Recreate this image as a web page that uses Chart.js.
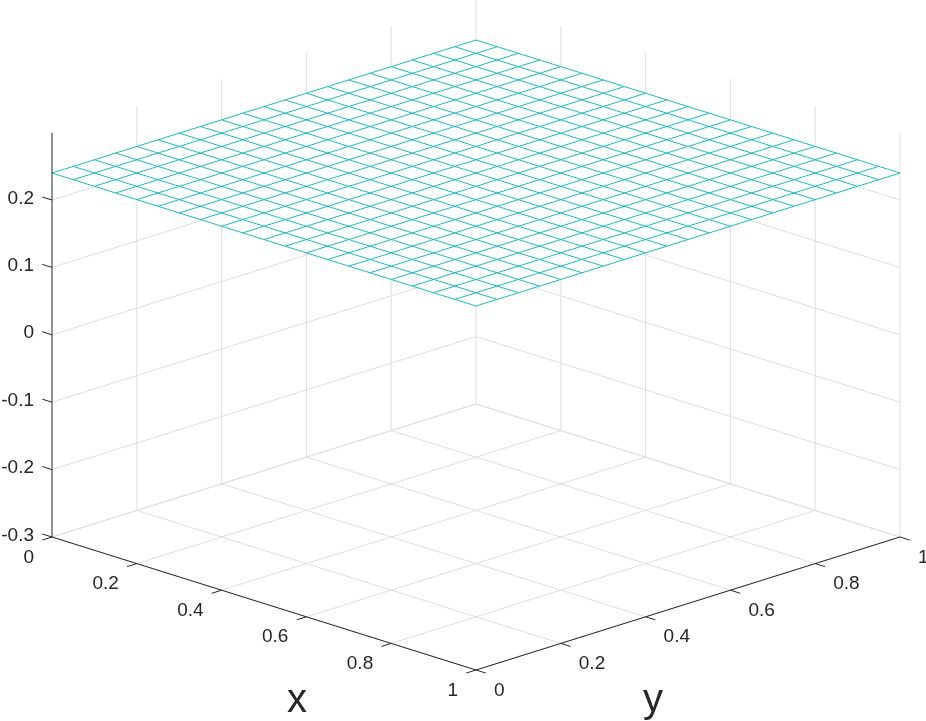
<!DOCTYPE html>
<html>
<head>
<meta charset="utf-8">
<script src="https://cdn.jsdelivr.net/npm/chart.js@4.4.0/dist/chart.umd.min.js"></script>
<style>
  html, body { margin: 0; padding: 0; background: #fff; }
  canvas { display: block; }
</style>
</head>
<body>
<canvas id="grafico" width="926" height="721"></canvas>
<script>
// valores
const xTicks = [0, 0.2, 0.4, 0.6, 0.8, 1];
const yTicks = [0, 0.2, 0.4, 0.6, 0.8, 1];
const zTicks = [-0.3, -0.2, -0.1, 0, 0.1, 0.2];
const xTickLabels = ['0', '0.2', '0.4', '0.6', '0.8', '1'];
const yTickLabels = ['0', '0.2', '0.4', '0.6', '0.8', '1'];
const zTickLabels = ['-0.3', '-0.2', '-0.1', '0', '0.1', '0.2'];
const zLimits = [-0.3, 0.3];

// malha da superfície (plano constante)
const meshX = [0, 0.05, 0.1, 0.15, 0.2, 0.25, 0.3, 0.35, 0.4, 0.45, 0.5, 0.55, 0.6, 0.65, 0.7, 0.75, 0.8, 0.85, 0.9, 0.95, 1];
const meshY = [0, 0.05, 0.1, 0.15, 0.2, 0.25, 0.3, 0.35, 0.4, 0.45, 0.5, 0.55, 0.6, 0.65, 0.7, 0.75, 0.8, 0.85, 0.9, 0.95, 1];
const surfaceZ = 0.24;

// vista 3D (projeção ortográfica, em pixels do canvas)
const vista = { ox: 52, oy: 537, ux: [424, 133], uy: [424, -133], uz: -674 };
const zMin = zLimits[0], zMax = zLimits[1];
const tickLen = 0.023;

function projetar(x, y, z) {
  return {
    x: vista.ox + vista.ux[0] * x + vista.uy[0] * y,
    y: vista.oy + vista.ux[1] * x + vista.uy[1] * y + vista.uz * (z - zMin)
  };
}

// junta varios segmentos num so dataset, separados por NaN
function segmentos(lista) {
  const pts = [];
  lista.forEach(s => {
    pts.push(projetar(...s[0]));
    pts.push(projetar(...s[1]));
    pts.push({ x: NaN, y: NaN });
  });
  return pts;
}

// grade cinza (chão e paredes do fundo)
const grade = [];
xTicks.forEach(x => grade.push([[x, 0, zMin], [x, 1, zMin]]));
yTicks.forEach(y => grade.push([[0, y, zMin], [1, y, zMin]]));
zTicks.forEach(z => {
  grade.push([[0, 0, z], [0, 1, z]]);
  grade.push([[0, 1, z], [1, 1, z]]);
});
yTicks.forEach(y => { if (y > 0) grade.push([[0, y, zMin], [0, y, zMax]]); });
xTicks.forEach(x => { if (x > 0) grade.push([[x, 1, zMin], [x, 1, zMax]]); });

// eixos pretos e marcas
const eixos = [
  [[0, 0, zMin], [0, 0, zMax]],
  [[0, 0, zMin], [1, 0, zMin]],
  [[1, 0, zMin], [1, 1, zMin]]
];
xTicks.forEach(x => eixos.push([[x, 0, zMin], [x, -tickLen, zMin]]));
yTicks.forEach(y => eixos.push([[1, y, zMin], [1 + tickLen, y, zMin]]));
zTicks.forEach(z => eixos.push([[0, 0, z], [-tickLen, 0, z]]));

// superfície: fundo branco + linhas da malha
const contorno = [[0, 0], [1, 0], [1, 1], [0, 1], [0, 0]].map(c => projetar(c[0], c[1], surfaceZ));
const malha = [];
meshX.forEach(x => malha.push([[x, 0, surfaceZ], [x, 1, surfaceZ]]));
meshY.forEach(y => malha.push([[0, y, surfaceZ], [1, y, surfaceZ]]));

const corTexto = '#262626';

const rotulos = {
  id: 'rotulos',
  afterDatasetsDraw(chart) {
    const ctx = chart.ctx;
    const sx = chart.scales.x, sy = chart.scales.y;
    const px = p => ({ x: sx.getPixelForValue(p.x), y: sy.getPixelForValue(p.y) });
    ctx.save();
    ctx.fillStyle = corTexto;
    ctx.font = '19px "Liberation Sans", Arial, sans-serif';
    ctx.textBaseline = 'alphabetic';

    ctx.textAlign = 'right';
    xTicks.forEach((x, i) => {
      const p = px(projetar(x, 0, zMin));
      ctx.fillText(xTickLabels[i], p.x - 18, p.y + 25.5);
    });
    zTicks.forEach((z, i) => {
      const p = px(projetar(0, 0, z));
      ctx.fillText(zTickLabels[i], p.x - 18, p.y + 3.5);
    });
    ctx.textAlign = 'left';
    yTicks.forEach((y, i) => {
      const p = px(projetar(1, y, zMin));
      ctx.fillText(yTickLabels[i], p.x + 18, p.y + 25.5);
    });

    ctx.font = '40px "Liberation Sans", Arial, sans-serif';
    ctx.textAlign = 'center';
    const mx = px(projetar(0.5, 0, zMin));
    ctx.fillText('x', mx.x + 33, mx.y + 108.5);
    const my = px(projetar(1, 0.5, zMin));
    ctx.fillText('y', my.x - 35, my.y + 108.5);
    ctx.restore();
  }
};

const linha = (data, cor, largura, ordem) => ({
  data: data,
  showLine: true,
  borderColor: cor,
  borderWidth: largura,
  pointRadius: 0,
  fill: false,
  clip: false,
  order: ordem
});

const fundo = linha(contorno, 'rgba(0,0,0,0)', 0, 3);
fundo.fill = 'shape';
fundo.backgroundColor = '#ffffff';

new Chart(document.getElementById('grafico').getContext('2d'), {
  type: 'scatter',
  data: {
    datasets: [
      linha(segmentos(grade), '#dedede', 1, 4),
      fundo,
      linha(segmentos(malha), '#17bfc0', 1, 2),
      linha(segmentos(eixos), '#262626', 1, 1)
    ]
  },
  options: {
    responsive: false,
    animation: false,
    devicePixelRatio: 1,
    layout: { padding: 0 },
    scales: {
      x: { type: 'linear', min: 0, max: 926, display: false },
      y: { type: 'linear', min: 0, max: 721, reverse: true, display: false }
    },
    plugins: {
      legend: { display: false },
      tooltip: { enabled: false }
    }
  },
  plugins: [rotulos]
});
</script>
</body>
</html>
